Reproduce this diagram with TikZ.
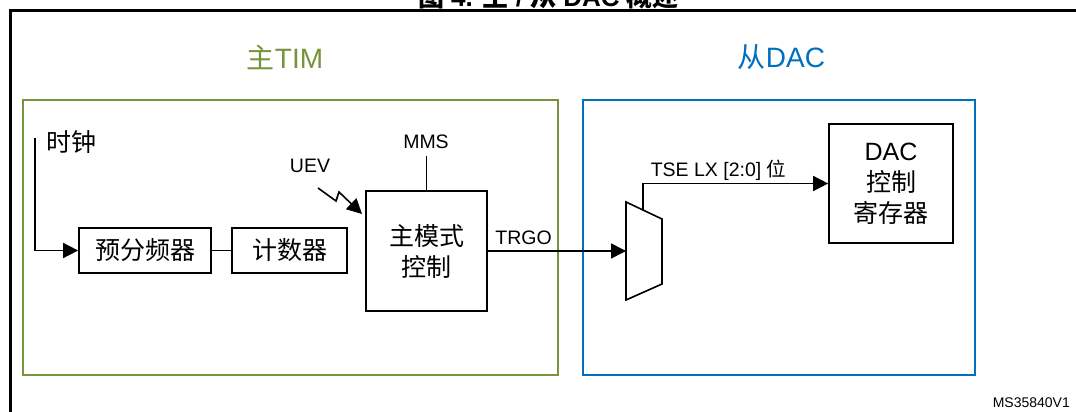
\documentclass[tikz,border=0pt]{standalone}
\usepackage{fontspec}
\setmainfont{Liberation Sans}
\newfontfamily\cjk{Noto Sans CJK SC}
\newcommand\zh[1]{{\cjk #1}}
\usetikzlibrary{arrows.meta}
\definecolor{tgreen}{HTML}{77933C}
\definecolor{dblue}{HTML}{0070C0}
\begin{document}
\begin{tikzpicture}[x=1pt,y=-1pt,
  blk/.style={draw, line width=1.7pt, inner sep=0pt, align=center, font=\fontsize{25}{31}\selectfont},
  wire/.style={line width=1.6pt},
  arr/.style={wire, -{Triangle[length=15pt,width=15pt]}},
  lbl/.style={font=\fontsize{19.5}{22}\selectfont, inner sep=0pt},
  grp/.style={draw, line width=2.2pt, inner sep=0pt, anchor=north west},
  grplbl/.style={font=\fontsize{28}{30}\selectfont, inner sep=0pt}]
\useasboundingbox (0,0) rectangle (1076,412);
% title (cut off)
\node[font=\bfseries\fontsize{26}{28}\selectfont, anchor=base, inner sep=0pt] (title) at (548.5,7) {\zh{图} 4. \zh{主} / \zh{从} DAC \zh{概述}};
% frame
\coordinate (fr1) at (1076,11);
\coordinate (fr2) at (10,11);
\coordinate (fr3) at (10,412);
\draw[line width=3pt] (fr1) -- (fr2) -- (fr3);
% groups
\node[grp, draw=tgreen, minimum width=535pt, minimum height=275pt] (tim) at (22,99) {};
\node[grp, draw=dblue, minimum width=392pt, minimum height=275pt] (dacg) at (582,99) {};
\node[grplbl, text=tgreen] (timlbl) at (285,57) {\zh{主}TIM};
\node[grplbl, text=dblue] (daclbl) at (781.5,57) {\zh{从}DAC};
% clock
\node[inner sep=0pt, font=\fontsize{25}{30}\selectfont] (clk) at (71,142) {\zh{时钟}};
\coordinate (clk0) at (35,138);
% blocks
\node[blk, minimum width=132pt, minimum height=45pt] (pre) at (145,250.5) {\zh{预分频器}};
\node[blk, minimum width=115pt, minimum height=45pt] (cnt) at (289.5,250.5) {\zh{计数器}};
\node[blk, minimum width=121pt, minimum height=120pt] (mmc) at (426.5,251) {\zh{主模式}\\\zh{控制}};
\node[blk, minimum width=124pt, minimum height=119pt] (dac) at (891,183.5) {DAC\\\zh{控制}\\\zh{寄存器}};
\draw[arr] (clk0) |- (pre.west);
\draw[wire] (pre.east) -- (cnt.west);
% MMS
\node[lbl] (mms) at (426,142) {MMS};
\coordinate (mms0) at (426.5,156);
\draw[wire] (mms0) -- (mmc.north);
% UEV
\node[lbl] (uev) at (310,166) {UEV};
\coordinate (u0) at (318,188);
\coordinate (u1) at (336,201);
\coordinate (u2) at (339,192);
\coordinate (u3) at (362,214);
\draw[arr, line join=miter] (u0) -- (u1) -- (u2) -- (u3);
% mux
\coordinate (m1) at (626,202);
\coordinate (m2) at (662,219);
\coordinate (m3) at (662,284);
\coordinate (m4) at (626,300);
\draw[wire, line join=miter] (m1) -- (m2) -- (m3) -- (m4) -- cycle;
\coordinate (muxin) at (626,251);
\coordinate (muxout) at (643,210);
\draw[arr] (mmc.east) -- (muxin);
\node[lbl] (trgo) at (523.5,238) {TRGO};
\draw[arr] (muxout) |- (dac.west);
\node[lbl] (tse) at (718.5,170.5) {TSE LX [2:0] \zh{位}};
% id
\node[inner sep=0pt, font=\fontsize{14}{16}\selectfont, anchor=east] (id) at (1070,403) {MS35840V1};
\end{tikzpicture}
\end{document}
